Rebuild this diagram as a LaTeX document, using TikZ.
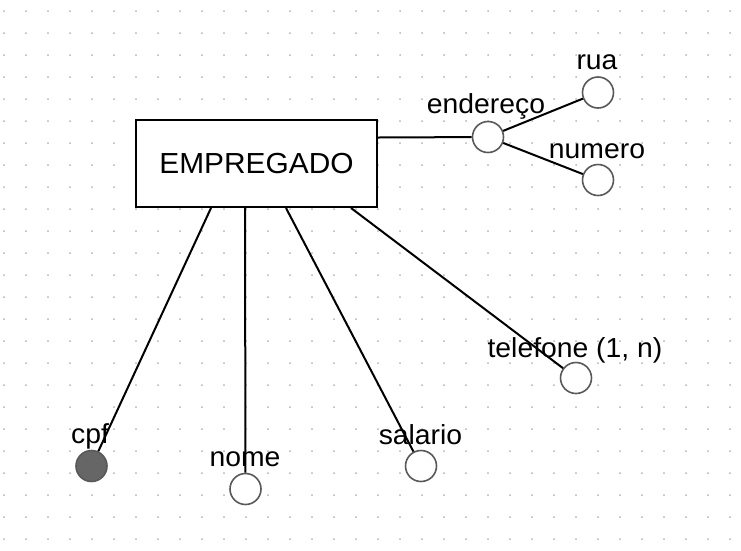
\documentclass[tikz,border=0pt]{standalone}
\usepackage{fontspec}
\setmainfont[FakeStretch=1.03]{Liberation Sans}
\begin{document}
\begin{tikzpicture}[x=1pt,y=-1pt,
  lbl/.style={anchor=base,inner sep=0pt,font=\fontsize{27.5}{31}\selectfont},
  attr/.style={circle,draw=black!65,line width=1.6pt,fill=white,minimum size=31pt,inner sep=0pt},
  keyattr/.style={attr,fill=black!60,draw=black!65},
  ent/.style={draw=black,line width=2pt,fill=white,minimum width=241pt,minimum height=87pt,inner sep=0pt,font=\fontsize{29}{33}\selectfont},
  conn/.style={draw=black,line width=2pt}]
\useasboundingbox (0,0) rectangle (741,550);
\foreach \i in {0,...,33}{\foreach \j in {0,...,24}{\fill[black!30] ({4+22*\i},{11+22*\j}) circle (1pt);}}
% entity
\node[ent] (emp) at (256.5,163.5) {EMPREGADO};
% attribute circles
\node[attr] (end) at (488,137) {};
\node[attr] (rua) at (598,92.5) {};
\node[attr] (num) at (598,180) {};
\node[keyattr] (cpf) at (91.5,466) {};
\node[attr] (nome) at (245.5,489) {};
\node[attr] (sal) at (421,466) {};
\node[attr] (tel) at (576,378) {};
% connectors
\draw[conn] ([yshift=-18.5pt]emp.north east) -- (end);
\draw[conn] (end) -- (rua);
\draw[conn] (end) -- (num);
\draw[conn] ([xshift=76pt]emp.south west) -- (cpf);
\draw[conn] ([xshift=110pt]emp.south west) -- (nome);
\draw[conn] ([xshift=151pt]emp.south west) -- (sal);
\draw[conn] ([xshift=216pt]emp.south west) -- (tel);
% labels
\node[lbl] (lend) at (486,113) {endereço};
\node[lbl] (lrua) at (597,69) {rua};
\node[lbl] (lnum) at (597,158) {numero};
\node[lbl] (lcpf) at (90,443) {cpf};
\node[lbl] (lnome) at (245,466) {nome};
\node[lbl] (lsal) at (420.5,444) {salario};
\node[lbl] (ltel) at (575,357) {telefone (1, n)};
\end{tikzpicture}
\end{document}
